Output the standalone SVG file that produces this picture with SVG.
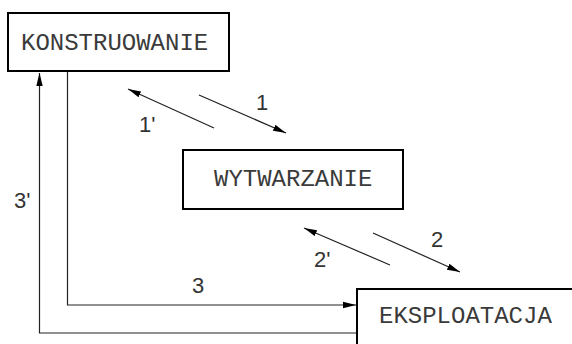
<svg xmlns="http://www.w3.org/2000/svg" width="572" height="344" viewBox="0 0 572 344">
<defs>
<style>
.box{fill:#fff;stroke:#000;stroke-width:2}
.name{font-family:"Liberation Mono","Courier New",monospace;font-size:24px;fill:#3a3a3a}
.lbl{font-family:"Liberation Sans",Arial,sans-serif;font-size:22px;fill:#333}
.c{fill:none;stroke:#222;stroke-width:1.2}
</style>
<marker id="ah" markerUnits="userSpaceOnUse" markerWidth="14" markerHeight="8" refX="13" refY="4" orient="auto">
<path d="M0,0.8 L13,4 L0,7.2 Z" fill="#000"/>
</marker>
</defs>
<rect width="572" height="344" fill="#fff"/>
<g id="connectors">
<path class="c" d="M67.5,72 V305 H356" marker-end="url(#ah)"/>
<path class="c" d="M357,333 H39.5 V73" marker-end="url(#ah)"/>
<line class="c" x1="214" y1="128" x2="128" y2="89" marker-end="url(#ah)"/>
<line class="c" x1="199" y1="95" x2="286" y2="133" marker-end="url(#ah)"/>
<line class="c" x1="390" y1="265" x2="304" y2="228" marker-end="url(#ah)"/>
<line class="c" x1="373" y1="233" x2="460" y2="272" marker-end="url(#ah)"/>
<text class="lbl" x="256" y="110">1</text>
<text class="lbl" x="139" y="132">1'</text>
<text class="lbl" x="431" y="247">2</text>
<text class="lbl" x="314" y="267">2'</text>
<text class="lbl" x="192" y="293">3</text>
<text class="lbl" x="14" y="208">3'</text>
</g>
<g id="konstruowanie">
<rect class="box" x="8" y="13" width="221" height="58"/>
<text class="name" x="21" y="50">KONSTRUOWANIE</text>
</g>
<g id="wytwarzanie">
<rect class="box" x="183" y="150" width="220" height="59"/>
<text class="name" x="214" y="186">WYTWARZANIE</text>
</g>
<g id="eksploatacja">
<rect class="box" x="357" y="289" width="230" height="70"/>
<text class="name" x="379" y="323">EKSPLOATACJA</text>
</g>
</svg>
